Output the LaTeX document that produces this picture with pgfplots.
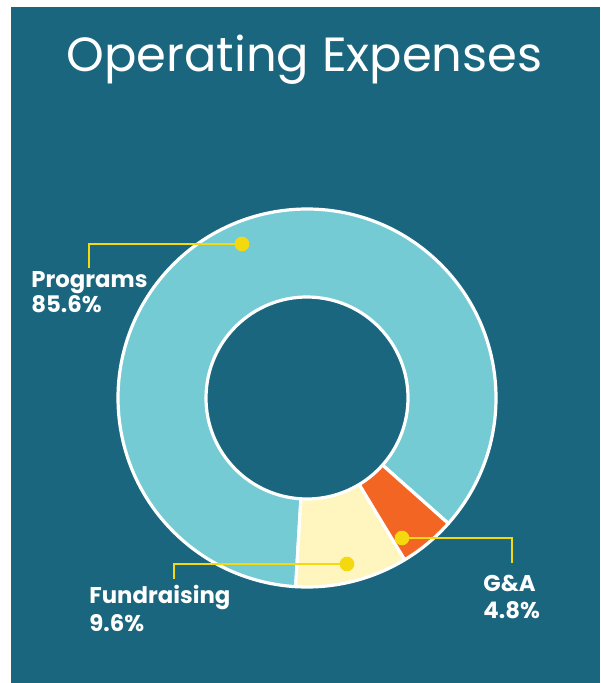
\documentclass[border=0pt]{standalone}
\usepackage{pgfplots}
\pgfplotsset{compat=1.18}
\usepackage{pgfplotstable}
\usepackage{fontspec}
\setmainfont{Poppins}
\definecolor{bg}{HTML}{1A667E}
\definecolor{prog}{HTML}{75CBD4}
\definecolor{fund}{HTML}{FFF5BF}
\definecolor{ga}{HTML}{F26522}
\definecolor{lead}{HTML}{F5D90F}

\pgfplotstableread{
label value
Programs 85.6
Fundraising 9.6
GA 4.8
}\slices
\pgfplotstablegetelem{0}{value}\of\slices \let\vP\pgfplotsretval
\pgfplotstablegetelem{1}{value}\of\slices \let\vF\pgfplotsretval
\pgfplotstablegetelem{2}{value}\of\slices \let\vG\pgfplotsretval
\pgfmathsetmacro\aA{-41.6}
\pgfmathsetmacro\aB{\aA+3.6*\vP}
\pgfmathsetmacro\aC{\aB+3.6*\vF}
\pgfmathsetmacro\aD{\aC+3.6*\vG}

\newcommand\donutslice[3]{%
  \fill[#1, draw=white, line width=1.6pt, line join=round]
    (axis cs:{307+189*cos(#2)},{398-189*sin(#2)})
    arc[start angle=#2, end angle=#3, radius=94.5pt]
    -- (axis cs:{307+101*cos(#3)},{398-101*sin(#3)})
    arc[start angle=#3, end angle=#2, radius=50.5pt] -- cycle;}

\begin{document}
\begin{tikzpicture}
\begin{axis}[
  x=0.5pt, y=0.5pt, y dir=reverse,
  xmin=0, xmax=600, ymin=0, ymax=683,
  hide axis, clip=false, axis line style={draw=none}]
  \fill[white] (axis cs:0,0) rectangle (axis cs:600,683);
  \fill[bg] (axis cs:11,7) rectangle (axis cs:600,683);
  \donutslice{prog}{\aA}{\aB}
  \donutslice{fund}{\aB}{\aC}
  \donutslice{ga}{\aC}{\aD}
  \addplot[lead, line width=1.3pt, mark=*, mark size=3pt, mark indices={1},
    mark options={fill=lead, draw=lead}] coordinates {(242,244) (89,244) (89,268)};
  \addplot[lead, line width=1.3pt, mark=*, mark size=3pt, mark indices={1},
    mark options={fill=lead, draw=lead}] coordinates {(347,564) (174,564) (174,579)};
  \addplot[lead, line width=1.3pt, mark=*, mark size=3pt, mark indices={1},
    mark options={fill=lead, draw=lead}] coordinates {(402,538) (512,538) (512,563)};
  \node[anchor=base, inner sep=0, text=white, font=\fontsize{24}{28}\selectfont]
    at (axis cs:304.5,72) {Operating Expenses};
  \begin{scope}[every node/.style={anchor=base west, inner sep=0, text=white,
      font=\fontsize{11.4}{14}\selectfont\bfseries}]
    \node at (axis cs:31,288) {Programs};
    \node at (axis cs:31,313) {85.6\%};
    \node at (axis cs:89,603) {Fundraising};
    \node at (axis cs:89,631) {9.6\%};
    \node at (axis cs:483,591) {G\&A};
    \node at (axis cs:483,618) {4.8\%};
  \end{scope}
\end{axis}
\end{tikzpicture}
\end{document}
